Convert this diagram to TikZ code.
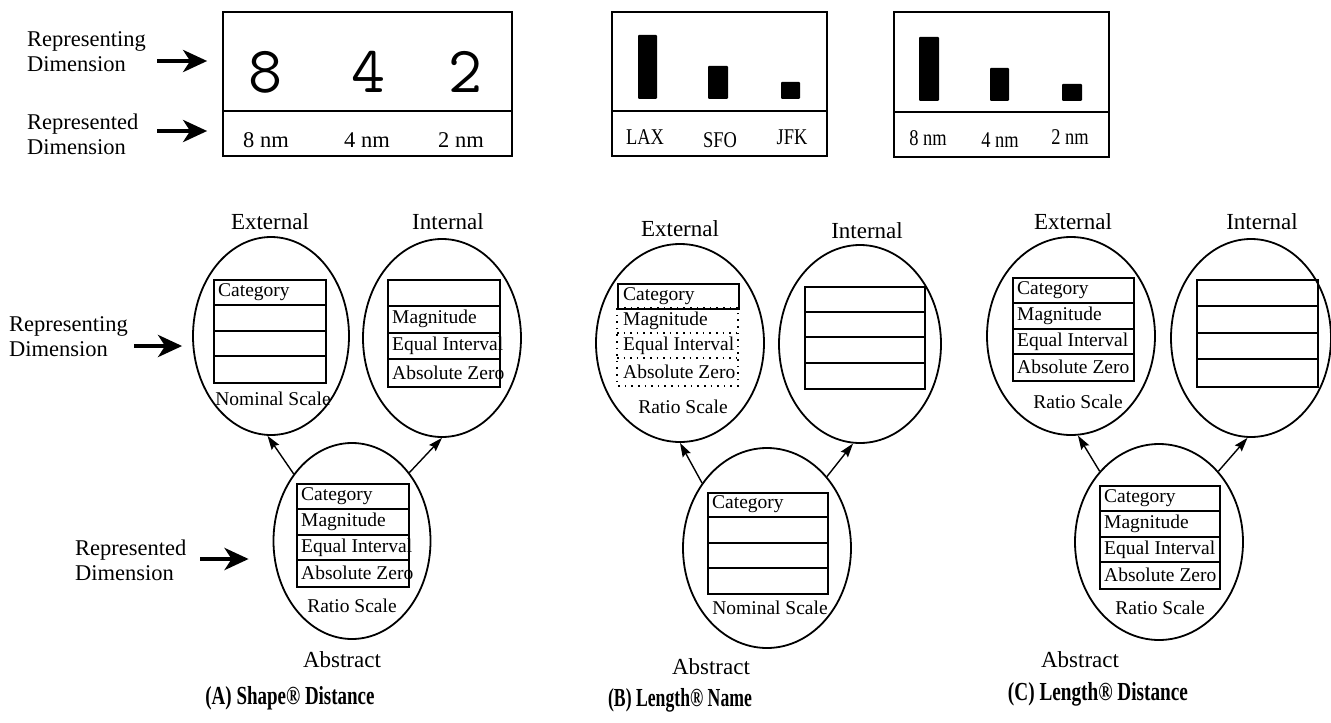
\documentclass[tikz,border=0pt]{standalone}
\usepackage{graphicx}
\usepackage{fontspec}
\setmainfont{Liberation Serif}
\usetikzlibrary{shapes.geometric, arrows.meta}

\tikzset{
  oval/.style={ellipse, draw, line width=1.8pt, inner sep=0pt},
  tabframe/.style={rectangle, draw, line width=1.8pt, inner sep=0pt},
  tabrule/.style={line width=2pt},
  dotrule/.style={line width=1.6pt, dash pattern=on 1.6pt off 5pt},
  rowtext/.style={anchor=west, inner sep=0pt, font=\fontsize{19.5}{21}\selectfont},
  scalename/.style={inner sep=0pt, font=\fontsize{19.5}{21}\selectfont},
  viewname/.style={inner sep=0pt, font=\fontsize{23}{25}\selectfont},
  sidelabel/.style={anchor=west, align=left, inner sep=0pt, font=\fontsize{22.5}{25}\selectfont},
  topbox/.style={rectangle, draw, line width=1.7pt, inner sep=0pt},
  divider/.style={line width=2.2pt},
  bar/.style={rectangle, fill=black, rounded corners=1pt, inner sep=0pt},
  bignum/.style={inner sep=0pt, font=\ttfamily\fontsize{66}{68}\selectfont},
  unitlabel/.style={inner sep=0pt, font=\fontsize{22.5}{24}\selectfont},
  caption/.style={inner sep=0pt, font=\bfseries\fontsize{26}{28}\selectfont},
  bigarrow/.style={line width=4.5pt, -{Stealth[length=24pt,width=22pt,inset=7pt]}},
  linkarrow/.style={line width=1.4pt, -{Stealth[length=14pt,width=9pt,inset=2pt]}}
}

% #1 name, #2 x, #3 y (top), #4 width, #5 height, #6-#9 row texts
\newcommand\scaletab[9]{%
  \node[tabframe, minimum width=#4pt, minimum height=#5pt, anchor=north west] (#1) at (#2,#3) {};
  \foreach \k in {1,2,3} \draw[tabrule] (#2,{#3+\k*#5/4}) -- ++(#4,0);
  \node[rowtext] (#1-1) at (#2+5,{#3+#5/8}) {#6};
  \node[rowtext] (#1-2) at (#2+5,{#3+3*#5/8}) {#7};
  \node[rowtext] (#1-3) at (#2+5,{#3+5*#5/8}) {#8};
  \node[rowtext] (#1-4) at (#2+5,{#3+7*#5/8}) {#9};
}

\begin{document}
\begin{tikzpicture}[x=1pt, y=-1pt]
\useasboundingbox (0,0) rectangle (1331,723);

% ---------- top row: the three displays ----------
% (A) digits
\node[topbox, minimum width=289pt, minimum height=144pt] (topA) at (367.5,84) {};
\draw[divider] (topA.west |- 0,111) -- (topA.east |- 0,111);
\node[bignum] (dA1) at (265,72) {8};
\node[bignum] (dA2) at (368,72) {4};
\node[bignum] (dA3) at (465,72) {2};
\node[unitlabel] (uA1) at (266,140) {8 nm};
\node[unitlabel] (uA2) at (367,140) {4 nm};
\node[unitlabel] (uA3) at (461,140) {2 nm};

\node[sidelabel] (repA) at (27,52) {Representing\\Dimension};
\node[sidelabel] (redA) at (27,134) {Represented\\Dimension};
\coordinate (ta1) at (157,61);
\coordinate (ta2) at (157,131);
\draw[bigarrow, shorten >=15pt] (ta1) -- (topA.west |- ta1);
\draw[bigarrow, shorten >=15pt] (ta2) -- (topA.west |- ta2);

% (B) bars with airport names
\node[topbox, minimum width=215pt, minimum height=144pt] (topB) at (719.5,84) {};
\draw[divider] (topB.west |- 0,111) -- (topB.east |- 0,111);
\node[bar, minimum width=19pt, minimum height=64pt, anchor=south] (bB1) at (647.5,99) {};
\node[bar, minimum width=20pt, minimum height=33pt, anchor=south] (bB2) at (718,99) {};
\node[bar, minimum width=19pt, minimum height=17pt, anchor=south] (bB3) at (790.5,99) {};
\node[unitlabel] (uB1) at (645,137) {\scalebox{0.82}[1]{LAX}};
\node[unitlabel] (uB2) at (720,140) {\scalebox{0.82}[1]{SFO}};
\node[unitlabel] (uB3) at (792,137) {\scalebox{0.82}[1]{JFK}};

% (C) bars with sizes
\node[topbox, minimum width=215pt, minimum height=145pt] (topC) at (1001.5,84.5) {};
\draw[divider] (topC.west |- 0,112) -- (topC.east |- 0,112);
\node[bar, minimum width=20pt, minimum height=64pt, anchor=south] (bC1) at (929,101) {};
\node[bar, minimum width=19pt, minimum height=33pt, anchor=south] (bC2) at (999.5,101) {};
\node[bar, minimum width=20pt, minimum height=17pt, anchor=south] (bC3) at (1072,101) {};
\node[unitlabel] (uC1) at (928,138) {\scalebox{0.82}[1]{8 nm}};
\node[unitlabel] (uC2) at (1000,140) {\scalebox{0.82}[1]{4 nm}};
\node[unitlabel] (uC3) at (1070,137) {\scalebox{0.82}[1]{2 nm}};

% ---------- (A) Shape -> Distance ----------
\node[oval, minimum width=156pt, minimum height=198pt] (Aext) at (271,336) {};
\node[oval, minimum width=158pt, minimum height=198pt] (Aint) at (442,338) {};
\node[oval, minimum width=157pt, minimum height=196pt] (Aabs) at (352,541) {};
\node[viewname] (AextL) at (270,222) {External};
\node[viewname] (AintL) at (448,222) {Internal};
\node[viewname] (AabsL) at (342,660) {Abstract};
\scaletab{Atx}{213}{279}{112}{103}{Category}{}{}{}
\scaletab{Ati}{387}{279}{112}{107}{}{Magnitude}{Equal Interval}{Absolute Zero}
\scaletab{Ata}{296}{483}{112}{103}{Category}{Magnitude}{Equal Interval}{Absolute Zero}
\node[scalename] (AsX) at (273,399) {Nominal Scale};
\node[scalename] (AsA) at (352,606) {Ratio Scale};
\draw[linkarrow] (Aabs.131) -- (Aext.268);
\draw[linkarrow] (Aabs.50) -- (Aint.270);

\node[sidelabel] (repB) at (9,337) {Representing\\Dimension};
\node[sidelabel] (redB) at (75,560) {Represented\\Dimension};
\coordinate (sa1) at (134,346);
\coordinate (sa2) at (200,559);
\draw[bigarrow, shorten >=10pt] (sa1) -- (Aext.west |- sa1);
\draw[bigarrow, shorten >=24pt] (sa2) -- (Aabs.west |- sa2);

\node[caption] (capA) at (290,698) {\scalebox{0.73}[1]{(A) Shape® Distance}};

% ---------- (B) Length -> Name ----------
\node[oval, minimum width=168pt, minimum height=198pt] (Bext) at (680,343) {};
\node[oval, minimum width=162pt, minimum height=198pt] (Bint) at (860,344) {};
\node[oval, minimum width=168pt, minimum height=200pt] (Babs) at (767,548) {};
\node[viewname] (BextL) at (680,229) {External};
\node[viewname] (BintL) at (867,231) {Internal};
\node[viewname] (BabsL) at (711,667) {Abstract};
% external table: only the first row is solid, the rest dotted
\node[tabframe, minimum width=121pt, minimum height=25pt, anchor=north west] (Btx) at (617,283) {};
\draw[dotrule] (617,308) rectangle (738,386);
\draw[dotrule] (617,333) -- (738,333);
\draw[dotrule] (617,358) -- (738,358);
\node[rowtext] (Btx-1) at (623,296) {Category};
\node[rowtext] (Btx-2) at (623,321) {Magnitude};
\node[rowtext] (Btx-3) at (623,346) {Equal Interval};
\node[rowtext] (Btx-4) at (623,372) {Absolute Zero};
\scaletab{Bti}{804}{286}{120}{102}{}{}{}{}
\scaletab{Bta}{707}{492}{120}{101}{Category}{}{}{}
\node[scalename] (BsX) at (683,407) {Ratio Scale};
\node[scalename] (BsA) at (770,608) {Nominal Scale};
\draw[linkarrow] (Babs.135) -- (Bext.270);
\draw[linkarrow] (Babs.50) -- (Bint.266);

\node[caption] (capB) at (680,700) {\scalebox{0.68}[1]{(B) Length® Name}};

% ---------- (C) Length -> Distance ----------
\node[oval, minimum width=168pt, minimum height=198pt] (Cext) at (1071,336) {};
\node[oval, minimum width=160pt, minimum height=198pt] (Cint) at (1251,338) {};
\node[oval, minimum width=168pt, minimum height=196pt] (Cabs) at (1159,542) {};
\node[viewname] (CextL) at (1073,222) {External};
\node[viewname] (CintL) at (1262,222) {Internal};
\node[viewname] (CabsL) at (1080,660) {Abstract};
\scaletab{Ctx}{1012}{277}{121}{103}{Category}{Magnitude}{Equal Interval}{Absolute Zero}
\scaletab{Cti}{1196}{279}{121}{107}{}{}{}{}
\scaletab{Cta}{1099}{485}{120}{103}{Category}{Magnitude}{Equal Interval}{Absolute Zero}
\node[scalename] (CsX) at (1078,402) {Ratio Scale};
\node[scalename] (CsA) at (1160,608) {Ratio Scale};
\draw[linkarrow] (Cabs.130) -- (Cext.274);
\draw[linkarrow] (Cabs.50) -- (Cint.268);

\node[caption] (capC) at (1098,694) {\scalebox{0.74}[1]{(C) Length® Distance}};
\end{tikzpicture}
\end{document}
